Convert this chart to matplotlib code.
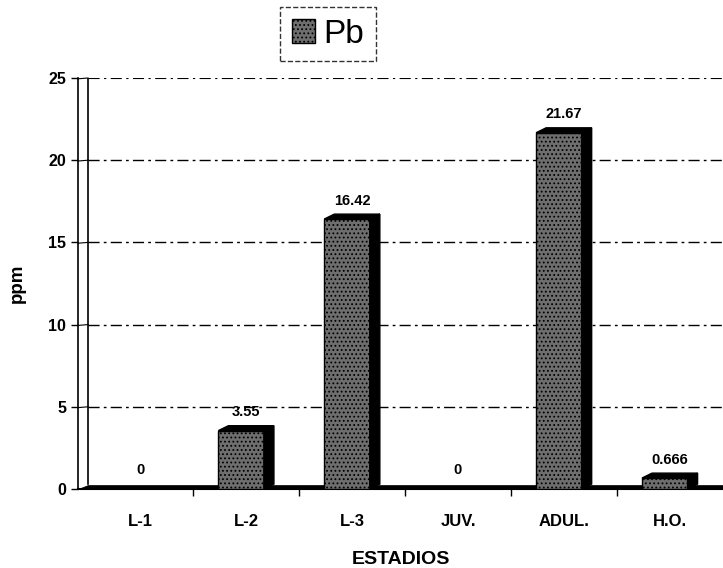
import matplotlib.pyplot as plt
import numpy as np
from matplotlib.patches import Polygon

# data
estadios = ['L-1', 'L-2', 'L-3', 'JUV.', 'ADUL.', 'H.O.']
pb = [0, 3.55, 16.42, 0, 21.67, 0.666]
etiquetas = ['0', '3.55', '16.42', '0', '21.67', '0.666']

plt.rcParams['font.family'] = ['Liberation Sans', 'DejaVu Sans']
plt.rcParams['hatch.color'] = '#eeeeee'
plt.rcParams['hatch.linewidth'] = 0.8

fig = plt.figure(figsize=(7.23, 5.68), dpi=100)
ax = fig.add_axes([78/723, 79/568, 1 - 78/723, 411/568])

x = np.arange(len(estadios))
w = 0.43
dx = 0.095   # depth of the 3d effect, in category units
dy = 0.3     # depth in ppm units

ax.set_xlim(-0.59, 5.5)
ax.set_ylim(0, 25)

# back wall + dash-dot grid
x0 = -0.59
ax.plot([x0 + dx, x0 + dx], [dy, 25], color='black', lw=1.2, zorder=1)
for yv in [5, 10, 15, 20, 25]:
    ax.plot([x0, x0 + dx], [yv - 0.05, yv], color='black', lw=0.8, zorder=1, clip_on=False)
    ls = (0, (8, 3, 2, 3)) if yv < 25 else (0, (10, 4, 2, 4))
    ax.hlines(yv, x0 + dx, 5.5, colors='black', linestyles=ls, lw=1 if yv < 25 else 0.8, zorder=1)

# floor
ax.add_patch(Polygon([[x0, 0], [5.5, 0], [5.5, 0.25], [x0 + dx, 0.25]], closed=True,
                     facecolor='black', edgecolor='black', lw=0.5, zorder=2, clip_on=False))

bars = ax.bar(x - 0.05, pb, width=w, facecolor='#6e6e6e', edgecolor='black',
              hatch='....', linewidth=1, zorder=3)

for b, v, t in zip(bars, pb, etiquetas):
    xl = b.get_x()
    xr = xl + b.get_width()
    if v > 0:
        side = Polygon([[xr, 0], [xr + dx, dy], [xr + dx, v + dy], [xr, v]],
                       closed=True, facecolor='black', edgecolor='black', zorder=3)
        top = Polygon([[xl, v], [xl + dx, v + dy], [xr + dx, v + dy], [xr, v]],
                      closed=True, facecolor='black', edgecolor='black', zorder=3)
        ax.add_patch(side)
        ax.add_patch(top)
    ax.text(xl + b.get_width() / 2 + dx / 2, v + dy + 0.4, t, ha='center', va='bottom',
            fontsize=10.5, fontweight='bold')

for s in ['top', 'right']:
    ax.spines[s].set_visible(False)
ax.spines['left'].set_linewidth(1.2)
ax.spines['bottom'].set_linewidth(1.5)

ax.set_yticks([0, 5, 10, 15, 20, 25])
ax.set_yticklabels(['0', '5', '10', '15', '20', '25'], fontsize=11.5, fontweight='bold')
ax.tick_params(axis='y', length=5, width=1)

ax.set_xticks(x)
ax.set_xticklabels(estadios, fontsize=12, fontweight='bold')
ax.tick_params(axis='x', length=0, pad=18)
ax.set_xticks(np.arange(0.5, 5.5, 1), minor=True)
ax.tick_params(axis='x', which='minor', length=5, width=1, direction='out')

ax.set_xlabel('ESTADIOS', fontsize=14, fontweight='bold', labelpad=16)
ax.set_ylabel('ppm', fontsize=13.5, fontweight='bold', labelpad=16)

leg = ax.legend([bars[1]], ['Pb'], loc='center', bbox_to_anchor=(0.388, 1.107),
                fontsize=24, frameon=True, fancybox=False, handlelength=0.7,
                handleheight=0.7, handletextpad=0.25, borderpad=0.35)
leg.get_frame().set_edgecolor('black')
leg.get_frame().set_linestyle('--')
leg.get_frame().set_linewidth(1)

fig.savefig('out.png', dpi=100)
